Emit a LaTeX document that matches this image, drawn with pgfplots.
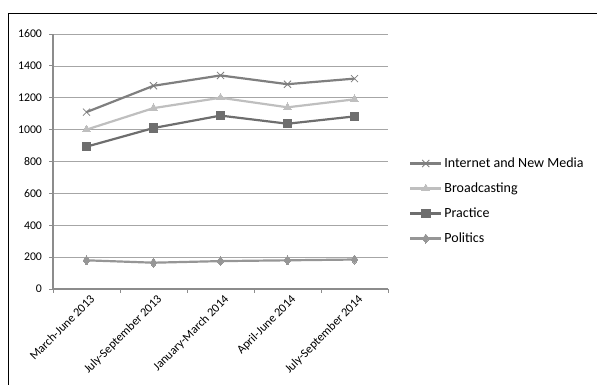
\documentclass[border=0pt]{standalone}
\usepackage{pgfplots}
\pgfplotsset{compat=1.18}
\usepackage{fontspec}
\setmainfont{Carlito}
\definecolor{cInt}{HTML}{7F7F7F}
\definecolor{cBro}{HTML}{BFBFBF}
\definecolor{cPra}{HTML}{6E6E6E}
\definecolor{cPol}{HTML}{969696}
\definecolor{cGrid}{HTML}{A6A6A6}
\definecolor{cAx}{HTML}{8C8C8C}
\begin{document}
\begin{tikzpicture}[x=1pt,y=1pt]
\useasboundingbox (-53,-96) rectangle (544,289);
\draw[line width=0.9pt,black] (-45,276) rectangle (560,-120);
\begin{axis}[
  at={(0,0)}, anchor=south west,
  scale only axis, width=335pt, height=255pt,
  xmin=-0.5, xmax=4.5, ymin=0, ymax=1600,
  ytick={0,200,...,1600},
  xtick={0,1,2,3,4},
  xticklabels={March-June 2013,July-September 2013,January-March 2014,April-June 2014,July-September 2014},
  minor xtick={-0.5,0.5,1.5,2.5,3.5,4.5},
  axis x line*=bottom, axis y line*=left,
  axis line style={cAx, line width=1.1pt},
  ymajorgrids, grid style={cGrid, line width=0.7pt},
  major x tick style={draw=none},
  minor x tick style={cAx, line width=0.8pt},
  major y tick style={cAx, line width=0.8pt},
  tick align=outside, major tick length=3.5pt, minor tick length=4pt,
  /pgf/number format/assume math mode=true,
  /pgf/number format/1000 sep={},
  yticklabel style={xshift=-4pt, font=\fontsize{11.8}{13}\selectfont},
  xticklabel style={rotate=45, anchor=north east, inner sep=1pt, yshift=-2pt, xshift=2pt, font=\fontsize{12.2}{14}\selectfont},
  legend style={at={(1,0.345)}, anchor=west, xshift=21pt, draw=none, fill=none,
    font=\fontsize{14}{16}\selectfont, row sep=9.8pt, inner sep=0pt},
  legend cell align=left,
  legend image code/.code={\draw[#1] (0pt,0pt) -- (31pt,0pt); \draw[#1, only marks] plot coordinates {(15.5pt,0pt)};},
  clip=false,
]
\addplot[cInt, line width=2.2pt, mark=x, mark size=5pt, mark options={line width=0.8pt, color=cInt}] coordinates {(0,1110) (1,1275) (2,1340) (3,1285) (4,1320)};
\addlegendentry{Internet and New Media}
\addplot[cBro, line width=2.2pt, mark=triangle*, mark size=4.5pt, mark options={line width=0pt}] coordinates {(0,1000) (1,1135) (2,1200) (3,1140) (4,1190)};
\addlegendentry{Broadcasting}
\addplot[cPra, line width=2.2pt, mark=square*, mark size=4.2pt, mark options={line width=0pt}] coordinates {(0,893) (1,1010) (2,1088) (3,1037) (4,1083)};
\addlegendentry{Practice}
\addplot[cPol, line width=2.2pt, mark=diamond*, mark size=4.5pt, mark options={line width=0pt}] coordinates {(0,180) (1,165) (2,175) (3,180) (4,185)};
\addlegendentry{Politics}
\end{axis}
\end{tikzpicture}
\end{document}
